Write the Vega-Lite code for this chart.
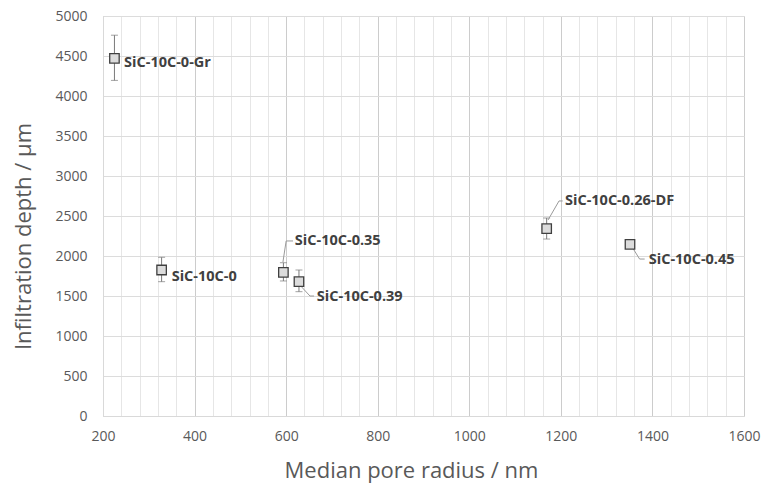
{
  "$schema": "https://vega.github.io/schema/vega-lite/v6.json",
  "width": 641,
  "height": 400,
  "autosize": "none",
  "padding": {"left": 103, "top": 16, "right": 21, "bottom": 67},
  "background": "white",
  "config": {
    "view": {"stroke": "#d9d9d9", "strokeWidth": 1},
    "font": "Open Sans"
  },
  "datasets": {
    "pts": [
      {"name": "SiC-10C-0-Gr", "r": 225, "d": 4471, "lo": 4195, "hi": 4760, "lx": 246, "ly": 4412},
      {"name": "SiC-10C-0", "r": 328, "d": 1825, "lo": 1679, "hi": 1984, "lx": 350, "ly": 1734},
      {"name": "SiC-10C-0.35", "r": 594, "d": 1796, "lo": 1688, "hi": 1916, "lx": 619, "ly": 2188},
      {"name": "SiC-10C-0.39", "r": 628, "d": 1679, "lo": 1554, "hi": 1825, "lx": 667, "ly": 1491},
      {"name": "SiC-10C-0.26-DF", "r": 1169, "d": 2342, "lo": 2212, "hi": 2475, "lx": 1209, "ly": 2688},
      {"name": "SiC-10C-0.45", "r": 1351, "d": 2146, "lo": 2146, "hi": 2146, "lx": 1392, "ly": 1950}
    ],
    "leaders": [
      {"name": "SiC-10C-0.35", "o": 1, "x": 593, "y": 1925},
      {"name": "SiC-10C-0.35", "o": 2, "x": 600, "y": 2188},
      {"name": "SiC-10C-0.35", "o": 3, "x": 615, "y": 2188},
      {"name": "SiC-10C-0.39", "o": 1, "x": 634, "y": 1612},
      {"name": "SiC-10C-0.39", "o": 2, "x": 652, "y": 1500},
      {"name": "SiC-10C-0.39", "o": 3, "x": 661, "y": 1500},
      {"name": "SiC-10C-0.26-DF", "o": 1, "x": 1172, "y": 2450},
      {"name": "SiC-10C-0.26-DF", "o": 2, "x": 1196, "y": 2688},
      {"name": "SiC-10C-0.26-DF", "o": 3, "x": 1204, "y": 2688},
      {"name": "SiC-10C-0.45", "o": 1, "x": 1357, "y": 2100},
      {"name": "SiC-10C-0.45", "o": 2, "x": 1372, "y": 1962},
      {"name": "SiC-10C-0.45", "o": 3, "x": 1383, "y": 1962}
    ]
  },
  "layer": [
    {
      "data": {"name": "pts"},
      "mark": {"type": "point", "shape": "square", "size": 90, "filled": true, "fill": "#dcdcdc", "stroke": "#404040", "strokeWidth": 1.3, "opacity": 0},
      "encoding": {
        "x": {
          "field": "r", "type": "quantitative",
          "title": "Median pore radius / nm",
          "scale": {"domain": [200, 1600], "nice": false, "zero": false},
          "axis": {
            "values": [200,240,280,320,360,400,440,480,520,560,600,640,680,720,760,800,840,880,920,960,1000,1040,1080,1120,1160,1200,1240,1280,1320,1360,1400,1440,1480,1520,1560,1600],
            "tickCount": 200,
            "labelExpr": "datum.value % 200 === 0 ? datum.label : ''",
            "format": "d",
            "grid": true,
            "gridColor": {"condition": {"test": "datum.value % 200 === 0", "value": "#cccccc"}, "value": "#e6e6e6"},
            "gridWidth": 1,
            "ticks": false,
            "domainColor": "#d9d9d9",
            "labelFont": "Open Sans",
            "labelFontSize": 14,
            "labelColor": "#595959",
            "labelPadding": 13,
            "labelFlush": false,
            "labelOverlap": false,
            "titleFont": "Open Sans",
            "titleFontSize": 22,
            "titleFontWeight": "normal",
            "titleColor": "#595959",
            "titleX": 308,
            "titleY": 54,
            "titleBaseline": "middle"
          }
        },
        "y": {
          "field": "d", "type": "quantitative",
          "title": "Infiltration depth / µm",
          "scale": {"domain": [0, 5000], "nice": false},
          "axis": {
            "values": [0,500,1000,1500,2000,2500,3000,3500,4000,4500,5000],
            "tickCount": 50,
            "format": "d",
            "grid": true,
            "gridColor": "#dcdcdc",
            "ticks": false,
            "domainColor": "#d9d9d9",
            "labelFont": "Open Sans",
            "labelFontSize": 14,
            "labelColor": "#595959",
            "labelPadding": 16,
            "labelFlush": false,
            "titleFont": "Open Sans",
            "titleFontSize": 22,
            "titleFontWeight": "normal",
            "titleColor": "#595959",
            "titleX": -80,
            "titleY": 220,
            "titleBaseline": "middle"
          }
        }
      }
    },
    {
      "data": {"name": "pts"},
      "mark": {"type": "errorbar", "ticks": {"size": 7, "color": "#7a7a7a"}, "color": "#7a7a7a", "thickness": 1},
      "encoding": {
        "x": {"field": "r", "type": "quantitative", "title": "Median pore radius / nm"},
        "y": {"field": "lo", "type": "quantitative", "title": "Infiltration depth / µm"},
        "y2": {"field": "hi"}
      }
    },
    {
      "data": {"name": "leaders"},
      "mark": {"type": "line", "color": "#9a9a9a", "strokeWidth": 1},
      "encoding": {
        "x": {"field": "x", "type": "quantitative", "title": "Median pore radius / nm"},
        "y": {"field": "y", "type": "quantitative", "title": "Infiltration depth / µm"},
        "detail": {"field": "name"},
        "order": {"field": "o"}
      }
    },
    {
      "data": {"name": "pts"},
      "mark": {"type": "point", "shape": "square", "size": 90, "filled": true, "fill": "#dcdcdc", "stroke": "#404040", "strokeWidth": 1.3, "opacity": 1},
      "encoding": {
        "x": {"field": "r", "type": "quantitative", "title": "Median pore radius / nm"},
        "y": {"field": "d", "type": "quantitative", "title": "Infiltration depth / µm"}
      }
    },
    {
      "data": {"name": "pts"},
      "mark": {"type": "text", "align": "left", "baseline": "middle", "font": "Open Sans", "fontSize": 14.5, "fontWeight": "bold", "color": "#404040"},
      "encoding": {
        "x": {"field": "lx", "type": "quantitative", "title": "Median pore radius / nm"},
        "y": {"field": "ly", "type": "quantitative", "title": "Infiltration depth / µm"},
        "text": {"field": "name"}
      }
    }
  ]
}
